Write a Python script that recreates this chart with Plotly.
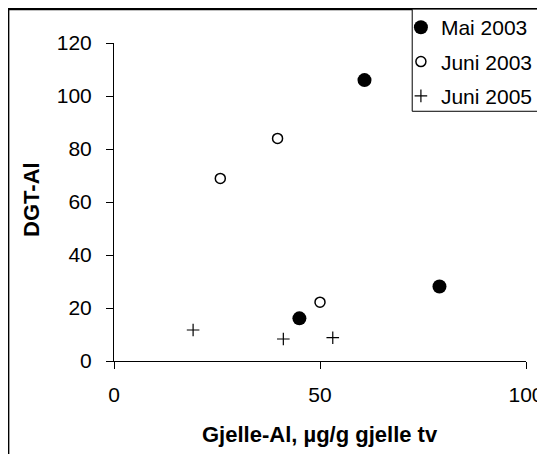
import plotly.graph_objects as go

# Data
mai2003_x = [60.8, 79.0, 45.0]
mai2003_y = [106.0, 28.1, 16.1]
juni2003_x = [25.8, 39.7, 50.0]
juni2003_y = [68.9, 84.0, 22.2]
juni2005_x = [19.2, 41.1, 53.1]
juni2005_y = [11.7, 8.3, 8.8]

series_names = ["Mai 2003", "Juni 2003", "Juni 2005"]
x_ticks = [0, 50, 100]
y_ticks = [0, 20, 40, 60, 80, 100, 120]

FONT = "Liberation Sans, Arial, sans-serif"
FS = 21
FS_TITLE = 22
W, H = 545, 454
OFF = 8  # page body margin
# plot area in figure coordinates
L = 114.3 - OFF
RIGHT = 526 - OFF
TOP = 43.4 - OFF
BOTTOM = 361.5 - OFF
pw = RIGHT - L
ph = BOTTOM - TOP

def px_x(p):  # p in screenshot px
    return (p - OFF - L) / pw

def px_y(p):
    return (BOTTOM - (p - OFF)) / ph

fig = go.Figure()
fig.add_trace(go.Scatter(
    x=mai2003_x, y=mai2003_y, mode="markers", name=series_names[0], legendgroup="a",
    marker=dict(symbol="circle", size=14, color="black", line=dict(width=0)),
))
fig.add_trace(go.Scatter(
    x=juni2003_x, y=juni2003_y, mode="markers", name=series_names[1], legendgroup="b",
    marker=dict(symbol="circle-open", size=10, color="black", line=dict(width=1.5, color="black")),
))
fig.add_trace(go.Scatter(
    x=juni2005_x, y=juni2005_y, mode="markers", name=series_names[2], legendgroup="c",
    marker=dict(symbol="cross-thin", size=9, color="black", line=dict(width=1.2, color="black")),
))

fig.update_layout(
    width=W, height=H,
    margin=dict(l=L, r=W - RIGHT, t=TOP, b=H - BOTTOM, autoexpand=False),
    paper_bgcolor="white", plot_bgcolor="white",
    font=dict(family=FONT, size=FS, color="black"),
    showlegend=True,
    legend=dict(
        x=px_x(401), y=px_y(7.5), xanchor="left", yanchor="top",
        borderwidth=0, bgcolor="rgba(0,0,0,0)",
        font=dict(family=FONT, size=FS, color="black"),
        itemwidth=30, tracegroupgap=4,
    ),
    xaxis=dict(
        range=[0, 100], tickvals=x_ticks, ticks="outside", ticklen=7,
        tickcolor="black", showline=True, linecolor="black", linewidth=1,
        showgrid=False, zeroline=False, ticklabelstandoff=8, automargin=False,
        tickfont=dict(family=FONT, size=FS, color="black"),
    ),
    yaxis=dict(
        range=[0, 120], tickvals=y_ticks, ticks="outside", ticklen=7,
        tickcolor="black", showline=True, linecolor="black", linewidth=1,
        showgrid=False, zeroline=False, ticklabelstandoff=10, automargin=False,
        tickfont=dict(family=FONT, size=FS, color="black"),
    ),
    shapes=[
        dict(type="rect", xref="paper", yref="paper",
             x0=px_x(8.5), x1=px_x(600), y0=px_y(520), y1=px_y(9.5),
             line=dict(color="black", width=2.5), fillcolor="rgba(0,0,0,0)", layer="below"),
        dict(type="rect", xref="paper", yref="paper",
             x0=px_x(412.3), x1=px_x(544), y0=px_y(111.7), y1=px_y(9.5),
             line=dict(color="black", width=1), fillcolor="white", layer="below"),
    ],
    annotations=[
        dict(text="<b>Gjelle-Al, µg/g gjelle tv</b>", xref="paper", yref="paper",
             x=px_x(320), y=px_y(435), xanchor="center", yanchor="middle",
             showarrow=False, font=dict(family=FONT, size=FS_TITLE, color="black")),
        dict(text="<b>DGT-Al</b>", xref="paper", yref="paper",
             x=px_x(31.7), y=px_y(200), xanchor="center", yanchor="middle",
             textangle=-90, showarrow=False, font=dict(family=FONT, size=FS_TITLE, color="black")),
    ],
)

fig.write_html("out.html")
